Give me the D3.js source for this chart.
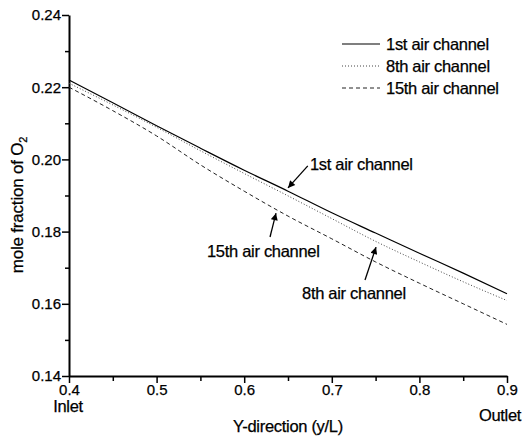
<!doctype html>
<html lang="en">
<head>
<meta charset="UTF-8">
<title>O2 mole fraction</title>
<style>
  body { margin: 0; background: #fff; }
  svg text { font-family: Arial, "Liberation Sans", sans-serif; fill: #000; stroke: #000; stroke-width: 0.25px; }
</style>
</head>
<body>
<svg width="522" height="436"></svg>
<script src="https://cdn.jsdelivr.net/npm/d3@7"></script>
<script>
// data
var yPos = [0.4, 0.45, 0.5, 0.55, 0.6, 0.65, 0.7, 0.75, 0.8, 0.85, 0.9];
var ch1  = [0.2220, 0.2157, 0.2093, 0.2031, 0.1970, 0.1912, 0.1852, 0.1796, 0.1740, 0.1685, 0.1628];
var ch8  = [0.2211, 0.2151, 0.2089, 0.2024, 0.1961, 0.1899, 0.1836, 0.1773, 0.1716, 0.1661, 0.1609];
var ch15 = [0.2200, 0.2135, 0.2065, 0.1985, 0.1912, 0.1843, 0.1780, 0.1716, 0.1657, 0.1600, 0.1543];
var seriesNames = ['1st air channel', '8th air channel', '15th air channel'];
var xTicks = [0.4, 0.5, 0.6, 0.7, 0.8, 0.9];
var yTicks = [0.14, 0.16, 0.18, 0.20, 0.22, 0.24];

var svg = d3.select('svg');

var x = d3.scaleLinear().domain([0.4, 0.9]).range([69, 507]);
var y = d3.scaleLinear().domain([0.14, 0.24]).range([376, 15]);

var styles = [
    { dash: null, color: '#000', w: 1.2 },
    { dash: '1,2', color: '#444', w: 1 },
    { dash: '4,3', color: '#222', w: 1 }
];
var series = [ch1, ch8, ch15];

// minor ticks
var xMinor = d3.range(0.45, 0.9, 0.1);
var yMinor = d3.range(0.15, 0.24, 0.02);

svg.append('g')
    .attr('transform', 'translate(0,376)')
    .call(d3.axisBottom(x).tickValues(xMinor).tickSize(5).tickFormat(''))
    .call(function(g) { g.select('.domain').remove(); });
svg.append('g')
    .attr('transform', 'translate(69,0)')
    .call(d3.axisLeft(y).tickValues(yMinor).tickSize(4).tickFormat(''))
    .call(function(g) { g.select('.domain').remove(); });

var xAxis = svg.append('g')
    .attr('transform', 'translate(0,376)')
    .call(d3.axisBottom(x).tickValues(xTicks).tickSize(7).tickSizeOuter(0)
        .tickFormat(d3.format('.1f')));
xAxis.selectAll('text').attr('font-size', 15).attr('y', 8).attr('dy', '0.71em');

var yAxis = svg.append('g')
    .attr('transform', 'translate(69,0)')
    .call(d3.axisLeft(y).tickValues(yTicks).tickSize(7).tickSizeOuter(0)
        .tickFormat(d3.format('.2f')));
yAxis.selectAll('text').attr('font-size', 15).attr('x', -8);

svg.selectAll('.domain').attr('stroke-width', 2);
svg.selectAll('.tick line').attr('stroke-width', 1.5);

// lines
var line = d3.line()
    .x(function(d, i) { return x(yPos[i]); })
    .y(function(d) { return y(d); })
    .curve(d3.curveMonotoneX);

series.forEach(function(s, k) {
    svg.append('path')
        .datum(s)
        .attr('fill', 'none')
        .attr('stroke', styles[k].color)
        .attr('stroke-width', styles[k].w)
        .attr('stroke-dasharray', styles[k].dash)
        .attr('d', line);
});

// legend
var legend = svg.append('g');
seriesNames.forEach(function(name, k) {
    var ly = 44 + k * 22;
    legend.append('line')
        .attr('x1', 342).attr('x2', 380)
        .attr('y1', ly).attr('y2', ly)
        .attr('stroke', styles[k].color)
        .attr('stroke-width', styles[k].w)
        .attr('stroke-dasharray', styles[k].dash);
    legend.append('text')
        .attr('x', 386).attr('y', ly + 6)
        .attr('font-size', 16.5)
        .attr('letter-spacing', -0.3)
        .text(name);
});

// annotations with arrows
svg.append('defs').append('marker')
    .attr('id', 'arr')
    .attr('viewBox', '0 0 10 10')
    .attr('refX', 10).attr('refY', 5)
    .attr('markerWidth', 9).attr('markerHeight', 7)
    .attr('markerUnits', 'userSpaceOnUse')
    .attr('orient', 'auto')
    .append('path').attr('d', 'M0,0L10,5L0,10z').attr('fill', '#000');

var notes = [
    { label: '1st air channel',  tx: 0.675,  ty: 0.1971, x1: 0.6726, y1: 0.1982, x2: 0.650,  y2: 0.1921 },
    { label: '15th air channel', tx: 0.5575, ty: 0.1730, x1: 0.6295, y1: 0.1785, x2: 0.6363, y2: 0.1851 },
    { label: '8th air channel',  tx: 0.666,  ty: 0.1613, x1: 0.7379, y1: 0.1666, x2: 0.7505, y2: 0.1757 }
];
notes.forEach(function(n) {
    svg.append('text')
        .attr('x', x(n.tx)).attr('y', y(n.ty))
        .attr('font-size', 16.5)
        .attr('letter-spacing', -0.3)
        .text(n.label);
    svg.append('line')
        .attr('x1', x(n.x1)).attr('y1', y(n.y1))
        .attr('x2', x(n.x2)).attr('y2', y(n.y2))
        .attr('stroke', '#000').attr('stroke-width', 1.3)
        .attr('marker-end', 'url(#arr)');
});

// axis titles
svg.append('text')
    .attr('x', 288).attr('y', 432)
    .attr('text-anchor', 'middle')
    .attr('font-size', 16.5)
    .attr('letter-spacing', -0.3)
    .text('Y-direction (y/L)');
svg.append('text')
    .attr('x', 68).attr('y', 412)
    .attr('text-anchor', 'middle')
    .attr('font-size', 16.5)
    .attr('letter-spacing', -0.3)
    .text('Inlet');
svg.append('text')
    .attr('x', 500).attr('y', 421)
    .attr('text-anchor', 'middle')
    .attr('font-size', 16.5)
    .attr('letter-spacing', -0.3)
    .text('Outlet');

var yTitle = svg.append('text')
    .attr('transform', 'translate(23,205) rotate(-90)')
    .attr('text-anchor', 'middle')
    .attr('font-size', 17)
    .attr('letter-spacing', -0.2);
yTitle.append('tspan').text('mole fraction of O');
yTitle.append('tspan').attr('font-size', 11).attr('dy', 4).text('2');
</script>
</body>
</html>
